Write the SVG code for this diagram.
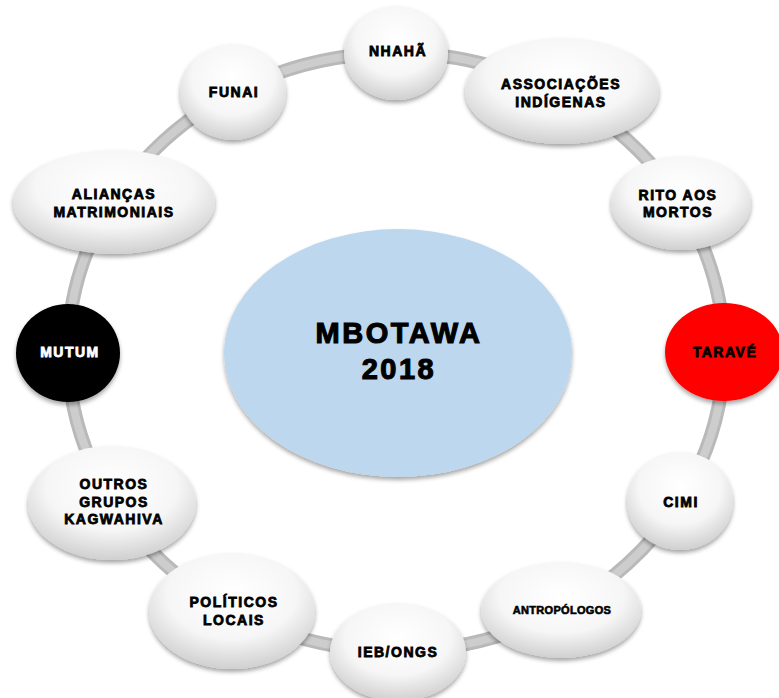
<svg xmlns="http://www.w3.org/2000/svg" width="779" height="698" viewBox="0 0 779 698">
<defs>
<radialGradient id="g" cx="50%" cy="35%" r="65%">
<stop offset="0" stop-color="#ffffff"/>
<stop offset="0.6" stop-color="#f6f6f6"/>
<stop offset="1" stop-color="#d0d0d0"/>
</radialGradient>
<filter id="sh" x="-20%" y="-20%" width="140%" height="140%">
<feDropShadow dx="0" dy="3" stdDeviation="2" flood-color="#000" flood-opacity="0.35"/>
</filter>
<style>
.n{fill:url(#g);filter:url(#sh)}
.t{font-family:"Liberation Sans",Arial,sans-serif;font-weight:bold;font-size:14px;letter-spacing:1.5px;text-anchor:middle;fill:#000;stroke:#000;stroke-width:0.8}
.s{font-size:11px;letter-spacing:0.3px;stroke-width:0.6}
.w{fill:#fff;stroke:#fff}
</style>
</defs>
<rect width="779" height="698" fill="#fff"/>
<g id="connectors">
<ellipse cx="396" cy="352" rx="328" ry="299" fill="none" stroke="#b9b9b9" stroke-width="14"/>
<ellipse cx="396" cy="352" rx="328" ry="299" fill="none" stroke="#cdcdcd" stroke-width="8"/>
</g>
<g id="center">
<ellipse cx="398" cy="353" rx="174" ry="124" fill="#bdd7ee" filter="url(#sh)"/>
<text class="t" x="399" y="343" style="font-size:29px;letter-spacing:2.5px;stroke-width:1.1">MBOTAWA</text>
<text class="t" x="399" y="379" style="font-size:29px;letter-spacing:2.5px;stroke-width:1.1">2018</text>
</g>
<g id="nhaha"><ellipse class="n" cx="396" cy="53" rx="52" ry="47"/><text class="t" x="398" y="56">NHAHÃ</text></g>
<g id="associacoes"><ellipse class="n" cx="562" cy="91" rx="97" ry="53"/><text class="t" x="561" y="89">ASSOCIAÇÕES</text><text class="t" x="561" y="107">INDÍGENAS</text></g>
<g id="rito"><ellipse class="n" cx="681" cy="203" rx="70" ry="47"/><text class="t" x="678" y="200">RITO AOS</text><text class="t" x="678" y="217">MORTOS</text></g>
<g id="tarave"><ellipse cx="724" cy="352" rx="59" ry="49" fill="#ff0000" filter="url(#sh)"/><text class="t" x="725" y="357">TARAVÉ</text></g>
<g id="cimi"><ellipse class="n" cx="680" cy="501" rx="53" ry="49"/><text class="t" x="681" y="507">CIMI</text></g>
<g id="antropologos"><ellipse class="n" cx="561" cy="610" rx="80" ry="48"/><text class="t s" x="562" y="614">ANTROPÓLOGOS</text></g>
<g id="ieb"><ellipse class="n" cx="398" cy="652" rx="68" ry="49"/><text class="t" x="398" y="657">IEB/ONGS</text></g>
<g id="politicos"><ellipse class="n" cx="232" cy="611" rx="83" ry="58"/><text class="t" x="234" y="607">POLÍTICOS</text><text class="t" x="234" y="625">LOCAIS</text></g>
<g id="outros"><ellipse class="n" cx="112" cy="503" rx="84" ry="57"/><text class="t" x="114" y="489">OUTROS</text><text class="t" x="114" y="507">GRUPOS</text><text class="t" x="114" y="524">KAGWAHIVA</text></g>
<g id="mutum"><ellipse cx="68" cy="353" rx="52" ry="49" fill="#000" filter="url(#sh)"/><text class="t w" x="70" y="357">MUTUM</text></g>
<g id="aliancas"><ellipse class="n" cx="114" cy="202" rx="101" ry="52"/><text class="t" x="114" y="199">ALIANÇAS</text><text class="t" x="114" y="217">MATRIMONIAIS</text></g>
<g id="funai"><ellipse class="n" cx="233" cy="92" rx="53" ry="48"/><text class="t" x="234" y="97">FUNAI</text></g>
</svg>
